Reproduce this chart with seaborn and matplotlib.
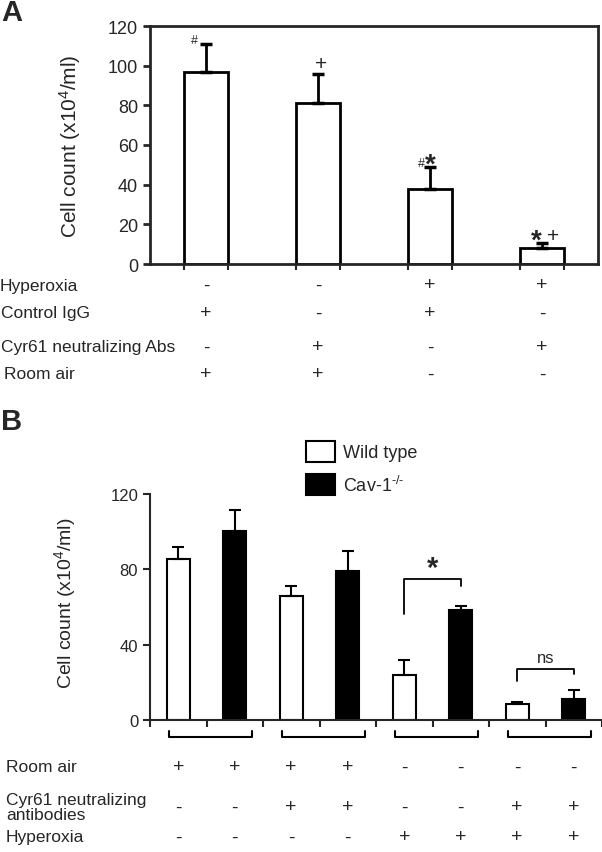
import numpy as np
import pandas as pd
import matplotlib
matplotlib.use('Agg')
import matplotlib.pyplot as plt
import seaborn as sns
from matplotlib.patches import Patch
from matplotlib.transforms import blended_transform_factory

sns.set_style('ticks')
plt.rcParams['font.family'] = ['Liberation Sans', 'DejaVu Sans']
plt.rcParams['mathtext.fontset'] = 'custom'
plt.rcParams['mathtext.rm'] = 'Liberation Sans'
plt.rcParams['mathtext.it'] = 'Liberation Sans:italic'

# ---- panel A data ----
a_groups = ['g1', 'g2', 'g3', 'g4']
a_means = [97, 81, 38, 8]
a_err = [14, 15, 11, 2.5]
a_rows = ['Hyperoxia', 'Control IgG', 'Cyr61 neutralizing Abs', 'Room air']
a_table = [['-', '-', '+', '+'],
           ['+', '-', '+', '-'],
           ['-', '+', '-', '+'],
           ['+', '+', '-', '-']]

# ---- panel B data ----
b_slots = ['s1', 's2', 's3', 's4', 's5', 's6', 's7', 's8']
b_genotype = ['Wild type', 'Cav-1$^{\\text{-/-}}$'] * 4
b_means = [85.5, 100.2, 66, 79, 24, 58.4, 8.5, 11.2]
b_err = [6.1, 11.5, 4.9, 10.6, 7.9, 2.0, 1.2, 4.9]
b_rows = ['Room air', 'Cyr61 neutralizing\nantibodies', 'Hyperoxia']
b_table = [['+', '+', '+', '+', '-', '-', '-', '-'],
           ['-', '-', '+', '+', '-', '-', '+', '+'],
           ['-', '-', '-', '-', '+', '+', '+', '+']]
b_colors = {'Wild type': 'white', 'Cav-1$^{\\text{-/-}}$': 'black'}

W, H = 602, 853
fig = plt.figure(figsize=(W / 100, H / 100), dpi=100)

def fy(px):
    return 1 - px / H

# ================= panel A =================
axA = fig.add_axes([150 / W, fy(265), 448 / W, 238 / H])
dfA = pd.DataFrame({'group': a_groups, 'count': a_means})
sns.barplot(data=dfA, x='group', y='count', color='white', saturation=1,
            edgecolor='black', linewidth=2, width=0.4, errorbar=None, ax=axA)
axA.errorbar(range(4), a_means, yerr=[np.zeros(4), a_err], fmt='none',
             ecolor='black', elinewidth=2, capsize=4, capthick=2.5, zorder=5)
axA.set_xlim(-0.5, 3.5)
axA.set_ylim(0, 120)
axA.set_yticks(range(0, 121, 20))
edges = [i + d for i in range(4) for d in (-0.2, 0.2)]
axA.set_xticks(edges)
axA.set_xticklabels([])
axA.set_xlabel('')
axA.tick_params(axis='x', direction='out', length=4, width=1.5)
axA.tick_params(axis='y', direction='out', length=5, width=2, labelsize=13)
for s in axA.spines.values():
    s.set_visible(True)
    s.set_linewidth(2)
axA.set_ylabel('Cell count (x10$^4$/ml)', fontsize=15)
axA.yaxis.set_label_coords(-0.15, 0.5)

# significance marks
axA.text(-0.1, 113, '#', fontsize=9, ha='center', va='center')
axA.text(1.03, 101, '+', fontsize=15, ha='center', va='center')
axA.text(1.92, 51, '#', fontsize=9, ha='center', va='center')
axA.text(2.0, 50, '*', fontsize=20, fontweight='bold', ha='center', va='center')
axA.text(2.95, 12, '*', fontsize=20, fontweight='bold', ha='center', va='center')
axA.text(3.1, 14.5, '+', fontsize=15, ha='center', va='center')

# condition table
trA = blended_transform_factory(axA.transData, fig.transFigure)
a_row_y = [286, 314, 348, 375]
a_row_x = [0, 1, 1, 4]
for r, lab in enumerate(a_rows):
    fig.text(a_row_x[r] / W, fy(a_row_y[r]), lab, fontsize=12.5, va='center', ha='left')
    for c, sym in enumerate(a_table[r]):
        axA.text(c, fy(a_row_y[r]), sym, transform=trA, fontsize=14,
                 ha='center', va='center')

fig.text(1 / W, fy(13), 'A', fontsize=21, fontweight='bold', va='center', ha='left')

# ================= panel B =================
axB = fig.add_axes([150 / W, fy(721), 452 / W, 226 / H])
dfB = pd.DataFrame({'slot': b_slots, 'genotype': b_genotype, 'count': b_means})
sns.barplot(data=dfB, x='slot', y='count', hue='genotype', palette=b_colors,
            saturation=1, dodge=False, width=0.41, edgecolor='black', linewidth=1.5,
            errorbar=None, legend=False, ax=axB)
axB.errorbar(range(8), b_means, yerr=[np.zeros(8), b_err], fmt='none',
             ecolor='black', elinewidth=1.5, capsize=4, capthick=1.5, zorder=5)
axB.set_xlim(-0.5, 7.5)
axB.set_ylim(0, 120)
axB.set_yticks([0, 40, 80, 120])
axB.set_xticks(np.arange(-0.5, 8, 1))
axB.set_xticklabels([])
axB.set_xlabel('')
axB.tick_params(axis='x', direction='out', length=5, width=1.5)
axB.tick_params(axis='y', direction='out', length=5, width=1.5, labelsize=12)
sns.despine(ax=axB)
axB.spines['left'].set_linewidth(1.5)
axB.spines['bottom'].set_linewidth(1.5)
axB.set_ylabel('Cell count (x10$^4$/ml)', fontsize=14)
axB.yaxis.set_label_coords(-0.16, 0.52)

# group brackets under the axis
trB = blended_transform_factory(axB.transData, axB.transAxes)
for g in range(4):
    x0, x1 = 2 * g - 0.17, 2 * g + 1.3
    axB.plot([x0, x0, x1, x1], [-0.049, -0.075, -0.075, -0.049], color='black',
             lw=1.5, transform=trB, clip_on=False)

# comparison brackets
axB.plot([4, 4, 5, 5], [56.3, 74.9, 74.9, 71.2], color='black', lw=1.3)
axB.text(4.5, 81, '*', fontsize=21, fontweight='bold', ha='center', va='center')
axB.plot([6, 6, 7, 7], [20.9, 27.1, 27.1, 24.4], color='black', lw=1.3)
axB.text(6.5, 33, 'ns', fontsize=12, ha='center', va='center')

# legend
handles = [Patch(facecolor=b_colors[k], edgecolor='black', linewidth=1.5) for k in b_colors]
axB.legend(handles, list(b_colors), loc='upper left',
           bbox_to_anchor=(306 / W, fy(442)), bbox_transform=fig.transFigure,
           frameon=False, fontsize=13, handlelength=1.6, handleheight=1.4,
           handletextpad=0.45, labelspacing=0.7, borderpad=0, borderaxespad=0)

# condition table
trB2 = blended_transform_factory(axB.transData, fig.transFigure)
b_row_y = [768, 808, 838]
for r, lab in enumerate(b_rows):
    fig.text(6 / W, fy(b_row_y[r]), lab, fontsize=12.5, va='center', ha='left',
             linespacing=1.05)
    for c, sym in enumerate(b_table[r]):
        axB.text(c, fy(b_row_y[r]), sym, transform=trB2, fontsize=14,
                 ha='center', va='center')

fig.text(1 / W, fy(422), 'B', fontsize=21, fontweight='bold', va='center', ha='left')

fig.savefig('out.png', dpi=100)
